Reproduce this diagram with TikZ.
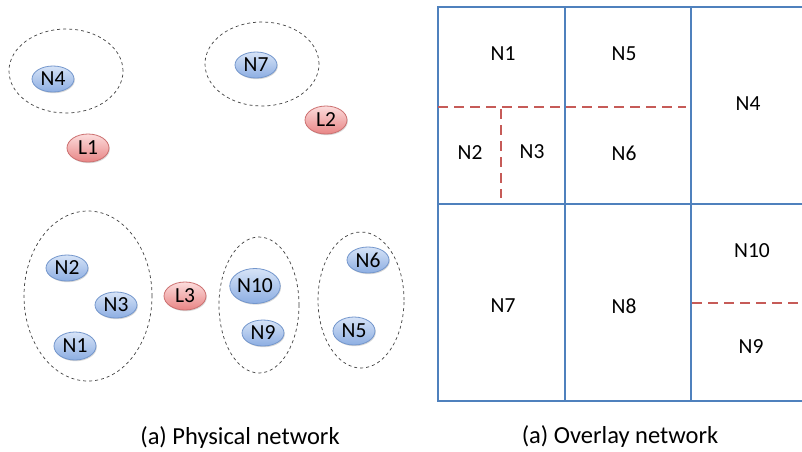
\documentclass[tikz,border=0pt]{standalone}
\usepackage{fontspec}
\setmainfont{Carlito}
\usetikzlibrary{shadows,shapes.geometric}
\definecolor{gridblue}{HTML}{4F81BD}
\definecolor{dashred}{HTML}{C65B58}
\definecolor{bluetop}{HTML}{D6E3F7}
\definecolor{bluebot}{HTML}{8DAEE2}
\definecolor{blueedge}{HTML}{7396CC}
\definecolor{redtop}{HTML}{FCDCDC}
\definecolor{redbot}{HTML}{E88585}
\definecolor{rededge}{HTML}{CC7070}
\begin{document}
\begin{tikzpicture}[x=1pt,y=-1pt,
  lbl/.style={font=\fontsize{21.5}{24}\selectfont, inner sep=0pt},
  caplbl/.style={font=\fontsize{24.5}{28}\selectfont, inner sep=0pt},
  bnode/.style={ellipse, minimum width=42pt, minimum height=26pt, inner sep=0pt,
     top color=bluetop, bottom color=bluebot, draw=blueedge, line width=0.8pt,
     drop shadow={shadow xshift=0.8pt, shadow yshift=-1.2pt, opacity=0.3},
     font=\fontsize{21.5}{24}\selectfont},
  rnode/.style={bnode, top color=redtop, bottom color=redbot, draw=rededge, minimum height=28pt},
  group/.style={ellipse, draw=black!75, dashed, line width=0.7pt, inner sep=0pt},
  gridline/.style={draw=gridblue, line width=2.6pt},
  cut/.style={draw=dashred, line width=2.8pt, dash pattern=on 10pt off 6pt},
  ]
\useasboundingbox (0,0) rectangle (802,451);
\fill[white] (0,0) rectangle (802,451);
% physical network
\node[group, minimum width=114pt, minimum height=84pt] (g4) at (66,71) {};
\node[group, minimum width=114pt, minimum height=84pt] (g7) at (262,64) {};
\node[group, minimum width=128pt, minimum height=170pt] (g1) at (88,296) {};
\node[group, minimum width=80pt, minimum height=136pt] (g9) at (259,305) {};
\node[group, minimum width=86pt, minimum height=136pt] (g5) at (361,300) {};
\node[bnode] (pN4) at (53,79) {N4};
\node[bnode] (pN7) at (256,65) {N7};
\node[rnode] (pL1) at (88,148) {L1};
\node[rnode] (pL2) at (326,120) {L2};
\node[bnode] (pN2) at (67,268) {N2};
\node[bnode] (pN3) at (116,305) {N3};
\node[bnode, minimum height=28pt] (pN1) at (75,346) {N1};
\node[rnode] (pL3) at (185,296) {L3};
\node[bnode, minimum width=49pt, minimum height=35pt] (pN10) at (255,286) {N10};
\node[bnode] (pN9) at (263,333) {N9};
\node[bnode] (pN6) at (368,260) {N6};
\node[bnode, minimum height=28pt] (pN5) at (354,331) {N5};
\node[caplbl] (cap1) at (240,438) {(a) Physical network};
% overlay network
\draw[gridline] (803,7) -- (438,7) -- (438,401) -- (803,401);
\draw[gridline] (438,204) -- (803,204);
\draw[gridline] (565,7) -- (565,401);
\draw[gridline] (691,7) -- (691,401);
\draw[cut] (438,107) -- (686,107);
\draw[cut] (501,109) -- (501,198);
\draw[cut] (692,303) -- (803,303);
\node[lbl] (oN1) at (503,54) {N1};
\node[lbl] (oN5) at (624,54) {N5};
\node[lbl] (oN4) at (748,104) {N4};
\node[lbl] (oN2) at (470,153) {N2};
\node[lbl] (oN3) at (532,152) {N3};
\node[lbl] (oN6) at (624,153) {N6};
\node[lbl] (oN7) at (503,306) {N7};
\node[lbl] (oN8) at (624,306) {N8};
\node[lbl] (oN10) at (752,251) {N10};
\node[lbl] (oN9) at (751,347) {N9};
\node[caplbl] (cap2) at (620,437) {(a) Overlay network};
\end{tikzpicture}
\end{document}
